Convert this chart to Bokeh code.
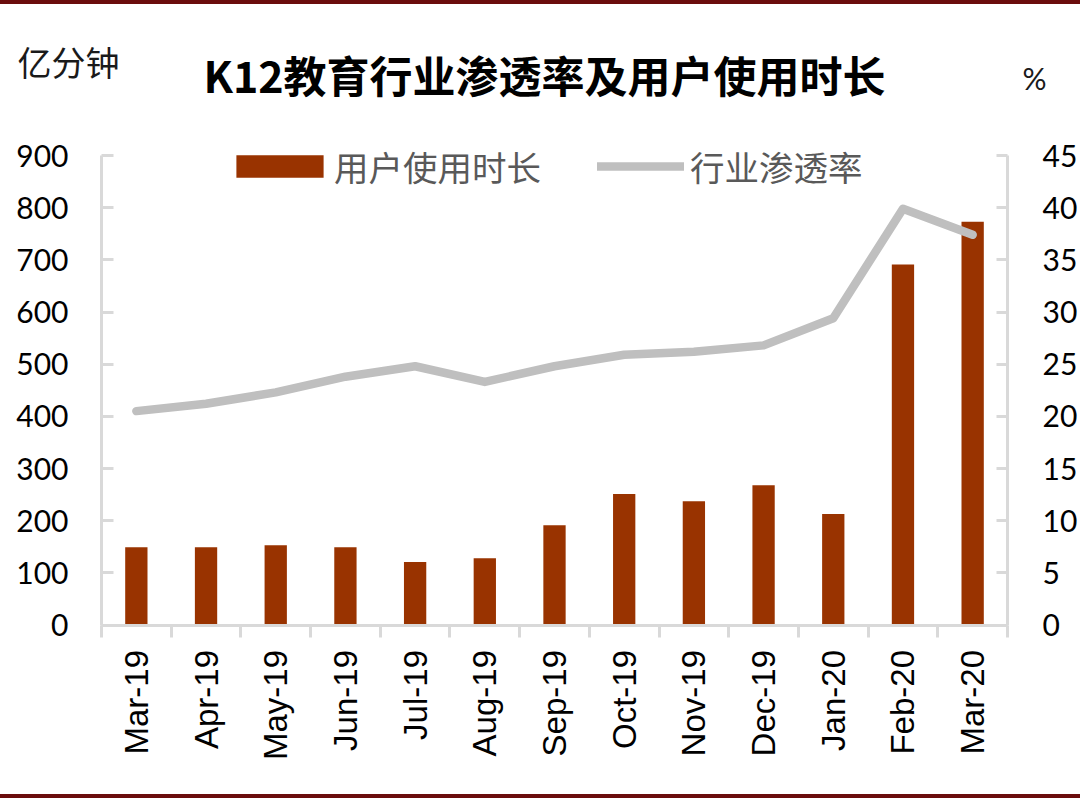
from bokeh.plotting import figure
from bokeh.models import (Range1d, LinearAxis, FixedTicker, Legend, LegendItem,
                          Label, Div, ColumnDataSource)
from bokeh.layouts import column
from bokeh.embed import file_html
from bokeh.resources import INLINE
import math

# ---------------- data ----------------
months = ["Mar-19", "Apr-19", "May-19", "Jun-19", "Jul-19", "Aug-19", "Sep-19",
          "Oct-19", "Nov-19", "Dec-19", "Jan-20", "Feb-20", "Mar-20"]
usage_minutes = [149, 149, 153, 149, 121, 128, 191, 251, 237, 268, 213, 691, 773]   # 亿分钟
penetration = [20.5, 21.2, 22.3, 23.8, 24.8, 23.3, 24.8, 25.9, 26.2, 26.8, 29.4, 39.9, 37.4]  # %
left_ticks = [0, 100, 200, 300, 400, 500, 600, 700, 800, 900]
right_ticks = [0, 5, 10, 15, 20, 25, 30, 35, 40, 45]

title_text = "K12教育行业渗透率及用户使用时长"
left_unit = "亿分钟"
right_unit = "%"
bar_name = "用户使用时长"
line_name = "行业渗透率"

BAR = "#993300"
LINE = "#bfbfbf"
AXIS = "#d9d9d9"
DARK = "#6b0d0d"

n = len(months)
centers = [i + 0.5 for i in range(n)]
src = ColumnDataSource(dict(x=centers, usage=usage_minutes, pen=penetration))

# ---------------- layout (pixels) ----------------
W, H = 1080, 790          # figure size; figure sits 4px below page top
FIG_TOP = 4
AX_L, AX_R = 101.0, 1007.0   # page x of category axis ends
AX_TOP, AX_BOT = 155.0, 624.5  # page y of 900 and 0
LMAX, RMAX = 900.0, 45.0

kx = (AX_R - AX_L) / n
x0 = -AX_L / kx
x1 = x0 + W / kx
ky = (AX_BOT - AX_TOP) / LMAX
y1 = (AX_BOT - FIG_TOP) / ky
y0 = y1 - H / ky
ratio = RMAX / LMAX

p = figure(width=W, height=H, output_backend="svg", toolbar_location=None,
           x_range=Range1d(x0, x1), y_range=Range1d(y0, y1),
           x_axis_type=None, y_axis_type=None, title=None,
           min_border=0, min_border_left=0, min_border_right=0,
           min_border_top=0, min_border_bottom=0)
p.outline_line_color = None
p.background_fill_color = "white"
p.border_fill_color = "white"
p.extra_y_ranges = {"pct": Range1d(y0 * ratio, y1 * ratio)}

# left axis
la = LinearAxis(ticker=FixedTicker(ticks=left_ticks), fixed_location=0,
                bounds=(0, LMAX))
la.axis_line_color = AXIS
la.axis_line_width = 3
la.major_tick_line_color = AXIS
la.major_tick_line_width = 3
la.major_tick_in = 12
la.major_tick_out = 0
la.minor_tick_line_color = None
la.major_label_text_font = "Lato"
la.major_label_text_font_size = "30px"
la.major_label_text_color = "#000000"
la.major_label_standoff = 33
p.add_layout(la, "left")

# right axis
ra = LinearAxis(y_range_name="pct", ticker=FixedTicker(ticks=right_ticks),
                fixed_location=n, bounds=(0, RMAX))
ra.axis_line_color = AXIS
ra.axis_line_width = 3
ra.major_tick_line_color = AXIS
ra.major_tick_line_width = 3
ra.major_tick_in = 11
ra.major_tick_out = 0
ra.minor_tick_line_color = None
ra.major_label_text_font = "Lato"
ra.major_label_text_font_size = "30px"
ra.major_label_text_color = "#000000"
ra.major_label_standoff = 35
p.add_layout(ra, "right")

# bottom axis: labels at centers, ticks at boundaries (minor)
ba = LinearAxis(ticker=FixedTicker(ticks=centers, minor_ticks=list(range(n + 1))),
                fixed_location=0, bounds=(0, n))
ba.major_label_overrides = {c: m for c, m in zip(centers, months)}
ba.axis_line_color = AXIS
ba.axis_line_width = 3
ba.major_tick_line_color = None
ba.major_tick_in = 0
ba.major_tick_out = 0
ba.minor_tick_line_color = AXIS
ba.minor_tick_line_width = 3
ba.minor_tick_in = 0
ba.minor_tick_out = 12
ba.major_label_orientation = math.pi / 2
ba.major_label_text_font = "Liberation Sans"
ba.major_label_text_font_size = "33px"
ba.major_label_text_color = "#000000"
ba.major_label_standoff = 13
p.add_layout(ba, "below")

bars = p.vbar(x="x", top="usage", width=0.32, source=src, fill_color=BAR,
              line_color=None)
ln = p.line(x="x", y="pen", y_range_name="pct", source=src, line_color=LINE,
            line_width=8.5, line_cap="round", line_join="round")


def make_legend(item, gw, loc, standoff):
    lg = Legend(items=[item], orientation="horizontal", location=loc)
    lg.border_line_color = None
    lg.background_fill_alpha = 0
    lg.padding = 0
    lg.margin = 0
    lg.glyph_width = gw
    lg.glyph_height = 28
    lg.label_height = 28
    lg.label_standoff = standoff
    lg.label_text_font = "Noto Sans CJK SC"
    lg.label_text_font_size = "34.5px"
    lg.label_text_color = "#595959"
    return lg


legend_y = FIG_TOP + H - 191
p.add_layout(make_legend(LegendItem(label=bar_name, renderers=[bars]), 109,
                         (225, legend_y), 0), "center")
p.add_layout(make_legend(LegendItem(label=line_name, renderers=[ln]), 87,
                         (597, legend_y), 6), "center")


def page_label(text, px, py, align, size, font, style="normal", color="#000000"):
    return Label(x=px, y=FIG_TOP + H - py, x_units="screen", y_units="screen",
                 text=text, text_align=align, text_baseline="middle",
                 text_font=font, text_font_style=style, text_font_size=size,
                 text_color=color)


p.add_layout(page_label(title_text, 544, 73, "center", "43px", "Noto Sans CJK SC", "bold"))
p.add_layout(page_label(left_unit, 17, 61, "left", "34px", "Noto Sans CJK SC", color="#1a1a1a"))
p.add_layout(page_label(right_unit, 1034, 77, "center", "30px", "Lato", color="#1a1a1a"))

top_line = Div(text="", width=W, height=4, margin=0,
               styles={"background-color": DARK})
bot_line = Div(text="", width=W, height=4, margin=0,
               styles={"background-color": DARK})
layout = column(top_line, p, bot_line, spacing=0)

open("out.html", "w").write(file_html(layout, INLINE))
